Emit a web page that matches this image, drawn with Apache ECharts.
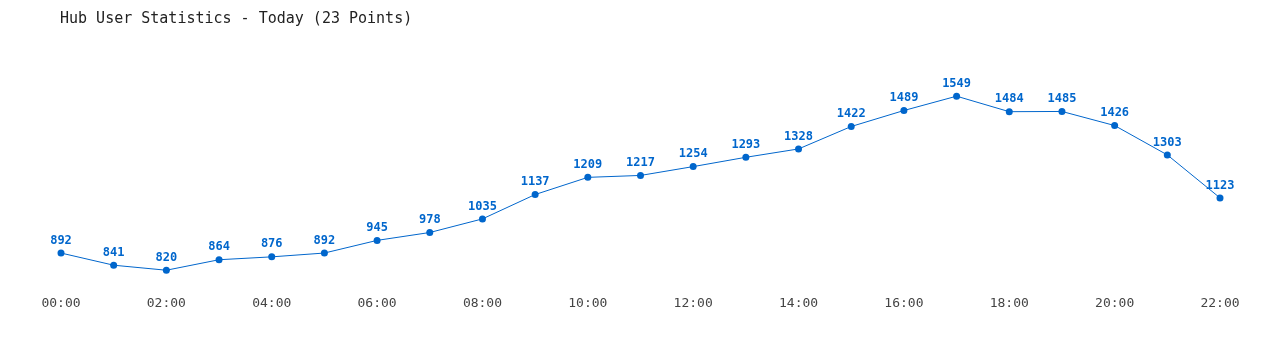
<!DOCTYPE html>
<html><head><meta charset="utf-8">
<script src="https://cdn.jsdelivr.net/npm/echarts@6/dist/echarts.min.js"></script>
<style>html,body{margin:0;padding:0;background:#fff}#c{width:1280px;height:350px}</style>
</head><body><div id="c"></div>
<script>
const categories = ["00:00","01:00","02:00","03:00","04:00","05:00","06:00","07:00","08:00","09:00","10:00","11:00","12:00","13:00","14:00","15:00","16:00","17:00","18:00","19:00","20:00","21:00","22:00"];
const users = [892,841,820,864,876,892,945,978,1035,1137,1209,1217,1254,1293,1328,1422,1489,1549,1484,1485,1426,1303,1123];
const titleText = "Hub User Statistics - Today (23 Points)";
const font = "'DejaVu Sans Mono', 'Liberation Mono', monospace";
const chart = echarts.init(document.getElementById('c'));
chart.setOption({
  animation: false,
  title: { text: titleText, left: 55, top: 7, textStyle: { fontFamily: font, fontSize: 15, fontWeight: 'normal', color: '#222' } },
  grid: { left: 61, right: 60, top: 84, bottom: 75 },
  xAxis: {
    type: 'category', data: categories, boundaryGap: false,
    axisLine: { show: false }, axisTick: { show: false },
    axisLabel: { interval: 1, margin: 22, fontFamily: font, fontSize: 13, color: '#444' },
    splitLine: { show: false }
  },
  yAxis: { type: 'value', min: 800, max: 1600, show: false, splitLine: { show: false } },
  series: [{
    type: 'line', data: users,
    lineStyle: { color: '#0066cc', width: 1 },
    itemStyle: { color: '#0066cc' },
    symbol: 'circle', symbolSize: 7,
    label: { show: true, position: 'top', distance: 3, fontFamily: font, fontSize: 12, fontWeight: 'bold', color: '#0066cc' }
  }]
});
</script></body></html>
